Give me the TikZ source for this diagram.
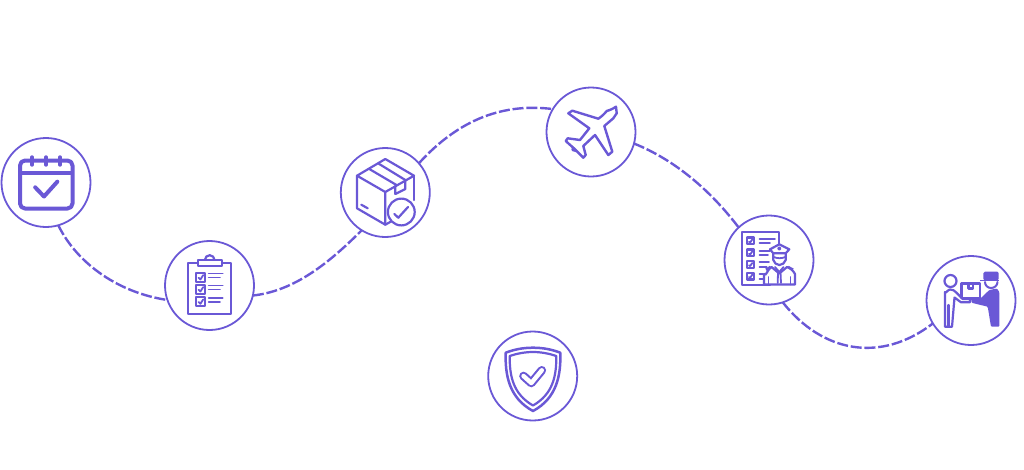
\documentclass[tikz,border=0pt]{standalone}
\definecolor{vio}{RGB}{106,88,214}
\tikzset{
  stop/.style={circle,draw=vio,line width=1.8pt,minimum size=89pt,inner sep=0pt,outer sep=0pt,fill=white},
  flow/.style={draw=vio,line width=2.4pt,dash pattern=on 11pt off 2.8pt},
  ico/.style={draw=vio,line width=2.2pt,line join=round,line cap=round},
  icothick/.style={draw=vio,line width=4pt,line join=round,line cap=round},
  icothin/.style={draw=vio,line width=1.8pt,line join=round,line cap=round},
}
\begin{document}
\begin{tikzpicture}[x=1pt,y=-1pt]
\useasboundingbox (0,0) rectangle (1024,469);
\node[stop] (cal) at (46,182.5) {};
\node[stop] (clip) at (209.5,285.5) {};
\node[stop] (box) at (385.3,192.5) {};
\node[stop] (plane) at (591,132) {};
\node[stop] (off) at (769,260) {};
\node[stop] (del) at (971,300.5) {};
\node[stop] (shield) at (532.7,376) {};
% connectors
\draw[flow] (cal.-74.7) .. controls (78,265) and (120,293) .. (clip.199.3);
\draw[flow] (clip.-13.6) .. controls (295,291) and (330,262) .. (box.238);
\draw[flow] (box.41) .. controls (460,118) and (505,103) .. (plane.149.5);
\draw[flow] (plane.-15.6) .. controls (675,160) and (710,190) .. (off.133);
\draw[flow] (off.-72) .. controls (822,352) and (880,364) .. (del.211);
% calendar
\draw[icothick,rounded corners=5pt] (20,160.5) rectangle (72.5,208.5);
\draw[icothick,line cap=butt] (20,172.7) -- (72.5,172.7);
\foreach \tx in {32,46,60} \draw[icothick,line width=3.4pt] (\tx,157) -- (\tx,165);
\draw[icothick] (35.2,187.3) -- (44,196.5) -- (57.3,181.7);
% clipboard
\draw[ico] (188.3,263.3) rectangle (231,313.7);
\draw[ico] (204.9,260) arc (180:360:4.8);
\draw[ico,fill=white] (197.7,260) rectangle (221.7,266.3);
\foreach \by in {272.7,284.7,297}{
  \draw[ico] (196.3,\by) rectangle ++(9,9);
  \draw[icothin] (198.6,\by+5) -- (200.4,\by+6.8) -- (203.2,\by+2.4);
  \draw[icothin] (208.7,\by+0.8) -- (222.7,\by+0.8);
  \draw[icothin] (208.7,\by+4.8) -- (220,\by+4.8);
}
% parcel
\draw[ico] (385.3,159) -- (357,175.7) -- (385.3,192) -- (414,175.7) -- cycle;
\draw[ico] (357,175.7) -- (357,208.3) -- (385.3,224.7) -- (385.3,192);
\draw[ico] (414,175.7) -- (414,200);
\draw[ico] (385.3,224.7) -- (391,221.5);
\draw[ico] (369.3,169) -- (397,185.3);
\draw[ico] (378.7,163.7) -- (405.3,180);
\draw[ico] (395.3,186) -- (395.3,194) -- (405.3,189) -- (405.3,180.5);
\draw[ico] (361.3,204.7) -- (367.7,208.3);
\draw[ico,fill=white] (401.3,212) circle (13.4);
\draw[ico] (394.3,214) -- (398.3,217.7) -- (408,207);
% plane
\draw[ico,line width=2.4pt] (572.3,110.7) -- (598.3,118.7) to[bend right=8] (606.7,111) to[bend right=8] (616,106.7) -- (616.7,113.3) to[bend left=8] (613.3,118.3) -- (604.3,126) -- (612.3,151.7) -- (608.3,155) -- (595,135) -- (583.3,146) -- (585.7,155) -- (583.3,157.7) -- (575,149.3) -- (565.7,141) -- (567.7,138.3) -- (580,140) -- (589.3,128.3) -- (568.3,113.3) -- cycle;
\draw[ico] (573,147.5) -- (572.5,150) -- (576,151);
% officer list
\draw[ico] (770,285) -- (742.3,285) -- (742.3,231.7) -- (779.3,231.7) -- (779.3,252);
\foreach \by in {237.5,249.5,261,272.7}{
  \draw[ico] (746.7,\by) rectangle ++(7.6,6.8);
  \draw[icothin] (749,\by+4.4) -- (750.2,\by+5) -- (752.2,\by+2);
}
\foreach \ly/\lb in {239/775,243.3/770,250.7/770,255/768,262.3/769,266.7/766.7,274.3/762.7,279/762.7}
  \draw[icothin] (759.5,\ly) -- (\lb,\ly);
% officer figure
\draw[ico,fill=white] (764,284.5) -- (764,274) to[out=-60,in=200] (771.5,267) -- (779.3,273.5) -- (787,267) to[out=-20,in=120] (795,274) -- (795,284.5) -- cycle;
\draw[ico,fill=white] (773.3,253) -- (773.3,260) to[out=-70,in=180] (779.3,265) to[out=0,in=-110] (785.7,260) -- (785.7,253);
\draw[ico,fill=white] (770,249.3) -- (779.3,244.3) -- (789.3,249.3) -- (785.7,253.3) -- (773.3,253.3) -- cycle;
\draw[icothin] (779.3,248.5) circle (1.2);
\draw[icothin] (773.5,257) to[out=-20,in=200] (785.5,257);
\draw[icothin] (775,267) -- (779.3,272) -- (783.5,267);
\draw[icothin] (778,272.5) -- (777.7,283) (780.5,272.5) -- (781,283);
\draw[ico,line width=2.6pt,line cap=butt] (766,269.7) -- (770.5,267) (788,267) -- (793,269.7);
\draw[icothin] (768.5,277) -- (768.5,284.5) (790.5,277) -- (790.5,284.5);
% delivery
\draw[ico] (950.5,281) circle (6);
\draw[ico] (945,326.7) -- (945,292) to[out=-70,in=180] (950,289.5) to[out=0,in=130] (956,292.3) -- (962.7,299) -- (970,299) -- (970,302.3) -- (961,302.3) -- (954.5,297.5) -- (952,326.7) -- cycle;
\draw[ico] (948.5,326) -- (948.5,305);
\draw[ico] (961.5,283.5) rectangle (980.3,297.7);
\draw[ico] (968.5,283.5) -- (968.5,288.5) -- (973,288.5) -- (973,283.5);
\fill[vio,rounded corners=1.5pt] (983.3,271.7) rectangle (998.7,280.5);
\fill[vio] (980,279.5) rectangle (998.7,281.3);
\draw[ico,line width=2pt] (985,282) to[out=-90,in=180] (991,288) to[out=0,in=-90] (997.5,282);
\fill[vio,rounded corners=1pt] (989.3,290) -- (997,288.5) -- (999.3,292) -- (999.3,326.7) -- (991,326.7) -- (987.7,306.7) -- (971.7,302.8) -- (971,298.3) -- (981,298) -- cycle;
% shield
\draw[ico,line width=2.5pt] (533,347.7) .. controls (523,347.7) and (514,349.5) .. (505.7,352.7) .. controls (505,375) and (509,398) .. (533,411) .. controls (557,398) and (561,375) .. (560.3,352.7) .. controls (552,349.5) and (543,347.7) .. (533,347.7) -- cycle;
\draw[ico] (533,352) .. controls (525,352) and (517,353.5) .. (509.7,356) .. controls (509.5,376) and (513,394) .. (533,405.5) .. controls (553,394) and (556.5,376) .. (556.3,356) .. controls (549,353.5) and (541,352) .. (533,352) -- cycle;
\draw[draw=vio,line width=8.6pt,line cap=round,line join=round] (523.5,376) -- (531.3,383) -- (541.8,370.3);
\draw[draw=white,line width=4.4pt,line cap=round,line join=round] (523.5,376) -- (531.3,383) -- (541.8,370.3);
\end{tikzpicture}
\end{document}
